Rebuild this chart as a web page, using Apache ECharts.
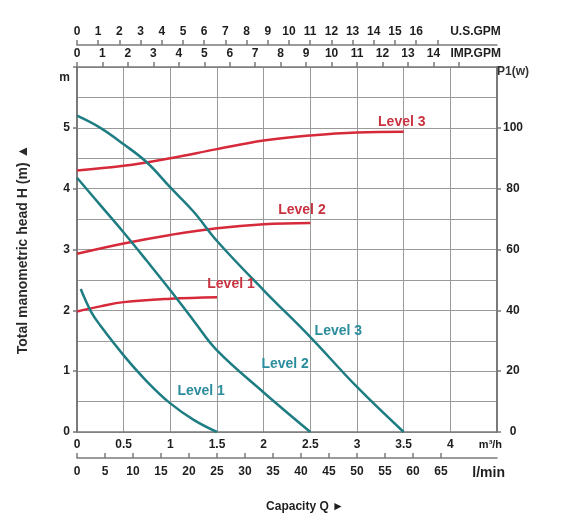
<!DOCTYPE html>
<html>
<head>
<meta charset="utf-8">
<script src="https://cdn.jsdelivr.net/npm/echarts@6/dist/echarts.min.js"></script>
<style>html,body{margin:0;padding:0;background:#fff}#c{width:567px;height:532px}</style>
</head>
<body>
<div id="c"></div>
<script>
// ---- data ----
// Head curves H (m) vs flow Q (m3/h)
const qHead1 = [0.04, 0.15, 0.25, 0.5, 0.75, 1.0, 1.25, 1.5];
const hHead1 = [2.35, 1.98, 1.75, 1.26, 0.83, 0.47, 0.2, 0];
const qHead2 = [0, 0.25, 0.5, 0.75, 1.0, 1.25, 1.5, 2.0, 2.5];
const hHead2 = [4.18, 3.73, 3.28, 2.81, 2.33, 1.83, 1.34, 0.65, 0];
const qHead3 = [0, 0.25, 0.5, 0.75, 1.0, 1.25, 1.5, 2.0, 2.5, 3.0, 3.5];
const hHead3 = [5.2, 5.0, 4.73, 4.43, 4.02, 3.62, 3.14, 2.33, 1.56, 0.74, 0];
// Power curves P1 (W) vs flow Q (m3/h)
const qPow1 = [0, 0.25, 0.5, 1.0, 1.5];
const wPow1 = [39.6, 41.3, 42.7, 43.8, 44.3];
const qPow2 = [0, 0.5, 1.0, 1.5, 2.0, 2.5];
const wPow2 = [58.6, 62.0, 64.8, 67.0, 68.3, 68.7];
const qPow3 = [0, 0.5, 1.0, 1.5, 2.0, 2.5, 3.0, 3.5];
const wPow3 = [86.0, 87.5, 90.0, 93.0, 95.8, 97.5, 98.5, 98.7];
// curve label anchors [Q, value]
const labelPow = [[1.65, 48.7], [2.41, 73.0], [3.48, 101.9]];
const labelHead = [[1.33, 0.67], [2.23, 1.12], [2.80, 1.66]];
const levelNames = ['Level 1', 'Level 2', 'Level 3'];
// tick labels
const m3hTicks = [0, 0.5, 1, 1.5, 2, 2.5, 3, 3.5, 4];
const lminTicks = [0, 5, 10, 15, 20, 25, 30, 35, 40, 45, 50, 55, 60, 65];
const usTicks = [0, 1, 2, 3, 4, 5, 6, 7, 8, 9, 10, 11, 12, 13, 14, 15, 16];
const impTicks = [0, 1, 2, 3, 4, 5, 6, 7, 8, 9, 10, 11, 12, 13, 14];
const headTicks = [0, 1, 2, 3, 4, 5];
const powTicks = [0, 20, 40, 60, 80, 100];

// unit conversions
const QMAX = 4.5;                 // m3/h
const LMIN_PER_M3H = 1000 / 60;
const US_GPM_PER_M3H = 4.402868;
const IMP_GPM_PER_M3H = 3.666154;

const RED = '#d62a3b', RED_T = '#c93340';
const TEAL = '#1d7d83', TEAL_T = '#2a8c9c';
const TXT = '#1e1e1e';
const FONT = 'Liberation Sans, Arial, sans-serif';
const GRID = '#9a9a9a';
const AX = '#7a7a7a';

const pairs = (a, b) => a.map((x, i) => [x, b[i]]);
const lbl = (color) => ({ fontFamily: FONT, fontWeight: 'bold', fontSize: 12, color });

function curve(name, q, v, yIdx, color, tcolor, anchor) {
  return {
    type: 'line', name, xAxisIndex: 0, yAxisIndex: yIdx,
    data: pairs(q, v), smooth: 0.4, symbol: 'none',
    lineStyle: { color, width: 2.5 },
    markPoint: {
      symbol: 'circle', symbolSize: 0, silent: true,
      data: [{ coord: anchor, value: name }],
      label: { show: true, position: 'inside', formatter: name,
        fontFamily: FONT, fontWeight: 'bold', fontSize: 14, color: tcolor }
    }
  };
}

const chart = echarts.init(document.getElementById('c'), null, { renderer: 'canvas' });
chart.setOption({
  animation: false,
  backgroundColor: '#fff',
  grid: { left: 77, right: 70, top: 67, bottom: 100, containLabel: false },
  xAxis: [
    { // m3/h (bottom, main)
      type: 'value', position: 'bottom', min: 0, max: QMAX, interval: 0.5,
      axisLine: { show: true, onZero: false, lineStyle: { color: AX, width: 1.5 } },
      axisTick: { show: false },
      splitLine: { show: true, lineStyle: { color: GRID, width: 1 } },
      axisLabel: Object.assign(lbl(TXT), { margin: 7,
        customValues: m3hTicks.concat([4.43]),
        formatter: v => v > 4.2 ? '{u|m³/h}' : String(v),
        rich: { u: { fontFamily: FONT, fontWeight: 'bold', fontSize: 11, color: TXT } } })
    },
    { // l/min
      type: 'value', position: 'bottom', offset: 26, min: 0, max: QMAX * LMIN_PER_M3H, interval: 5,
      axisLine: { show: true, onZero: false, lineStyle: { color: AX, width: 1.5 } },
      axisTick: { show: true, inside: true, length: 5, customValues: lminTicks, lineStyle: { color: AX, width: 1.5 } },
      splitLine: { show: false },
      axisLabel: Object.assign(lbl(TXT), { margin: 8,
        customValues: lminTicks.concat([73.5]),
        formatter: v => v > 70 ? '{u|l/min}' : String(v),
        rich: { u: { fontFamily: FONT, fontWeight: 'bold', fontSize: 14, color: TXT } } }),
      name: 'Capacity Q ►', nameLocation: 'middle', nameGap: 43,
      nameTextStyle: { fontFamily: FONT, fontWeight: 'bold', fontSize: 12, color: TXT, padding: [0, 0, 0, 36] }
    },
    { // U.S. GPM (top, outer)
      type: 'value', position: 'top', offset: 22, min: 0, max: QMAX * US_GPM_PER_M3H, interval: 1,
      axisLine: { show: true, onZero: false, lineStyle: { color: AX, width: 1.5 } },
      axisTick: { show: true, inside: false, length: 5, customValues: usTicks.concat([17]), lineStyle: { color: AX, width: 1.5 } },
      splitLine: { show: false },
      axisLabel: Object.assign(lbl(TXT), { margin: 7,
        customValues: usTicks.concat([18.8]),
        formatter: v => v > 17 ? 'U.S.GPM' : String(v) })
    },
    { // IMP GPM (top, inner)
      type: 'value', position: 'top', offset: 0, min: 0, max: QMAX * IMP_GPM_PER_M3H, interval: 1,
      axisLine: { show: true, onZero: false, lineStyle: { color: AX, width: 1.5 } },
      axisTick: { show: true, inside: false, length: 5, customValues: impTicks.concat([15]), lineStyle: { color: AX, width: 1.5 } },
      splitLine: { show: false },
      axisLabel: Object.assign(lbl(TXT), { margin: 7,
        customValues: impTicks.concat([15.66]),
        formatter: v => v > 15 ? 'IMP.GPM' : String(v) })
    }
  ],
  yAxis: [
    { // head (m)
      type: 'value', position: 'left', min: 0, max: 6, interval: 1,
      axisLine: { show: true, onZero: false, lineStyle: { color: AX, width: 2 } },
      axisTick: { show: true, inside: false, length: 4, lineStyle: { color: AX, width: 1.5 } },
      splitLine: { show: true, lineStyle: { color: GRID, width: 1 } },
      minorTick: { show: false, splitNumber: 2 },
      minorSplitLine: { show: true, lineStyle: { color: GRID, width: 1 } },
      axisLabel: Object.assign(lbl(TXT), { margin: 7,
        customValues: headTicks.concat([5.82]),
        formatter: v => v > 5.5 ? 'm' : String(v) }),
      name: 'Total manometric head H (m) ▲', nameLocation: 'middle', nameGap: 47, nameRotate: 90,
      nameTextStyle: { fontFamily: FONT, fontWeight: 'bold', fontSize: 14, color: '#2a2a2a', padding: [0, 0, 0, 0] }
    },
    { // power P1 (W)
      type: 'value', position: 'right', min: 0, max: 120, interval: 20,
      axisLine: { show: true, onZero: false, lineStyle: { color: AX, width: 2 } },
      axisTick: { show: true, inside: false, length: 4, lineStyle: { color: AX, width: 1.5 } },
      splitLine: { show: false },
      axisLabel: Object.assign(lbl(TXT), { margin: 16, align: 'center',
        customValues: powTicks.concat([118.4]),
        formatter: v => v > 110 ? '{p|P1(w)}' : String(v),
        rich: { p: { fontFamily: FONT, fontWeight: 'bold', fontSize: 12, color: '#333' } } })
    }
  ],
  series: [
    curve(levelNames[0], qPow1, wPow1, 1, RED, RED_T, labelPow[0]),
    curve(levelNames[1], qPow2, wPow2, 1, RED, RED_T, labelPow[1]),
    curve(levelNames[2], qPow3, wPow3, 1, RED, RED_T, labelPow[2]),
    curve(levelNames[0], qHead1, hHead1, 0, TEAL, TEAL_T, labelHead[0]),
    curve(levelNames[1], qHead2, hHead2, 0, TEAL, TEAL_T, labelHead[1]),
    curve(levelNames[2], qHead3, hHead3, 0, TEAL, TEAL_T, labelHead[2])
  ]
});
</script>
</body>
</html>
